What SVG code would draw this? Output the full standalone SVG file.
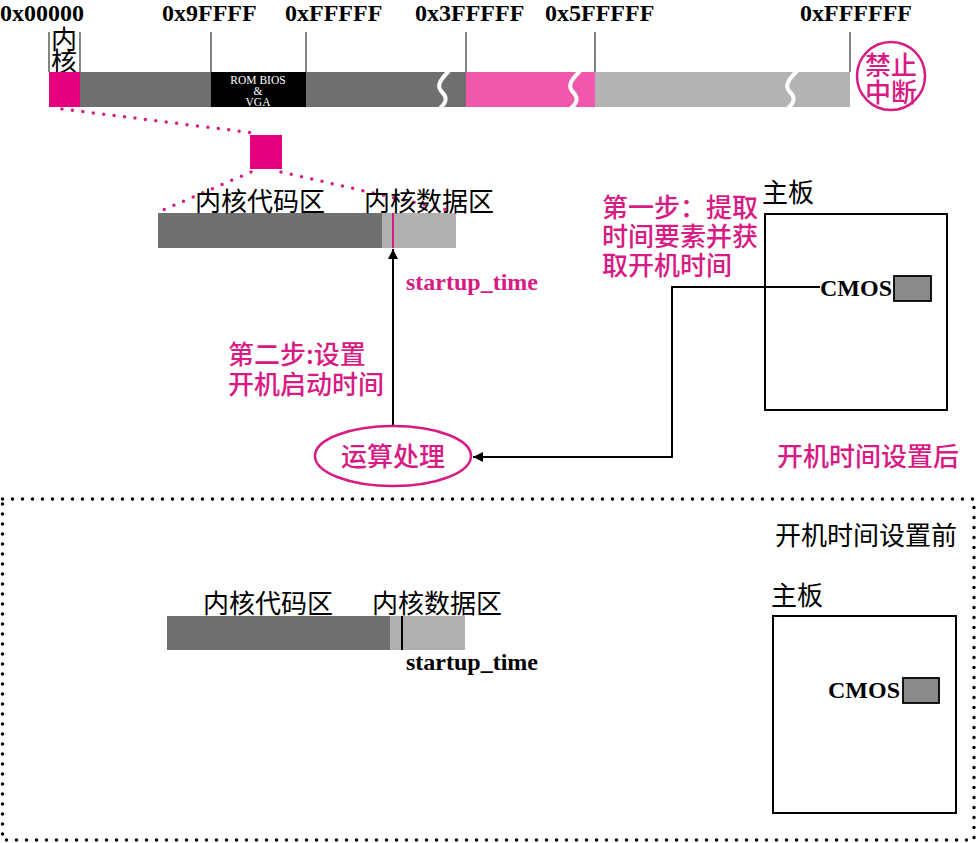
<svg xmlns="http://www.w3.org/2000/svg" width="977" height="843" viewBox="0 0 977 843">
<style>
.addr{font-family:"Liberation Serif","Times New Roman",serif;font-weight:bold;font-size:24px;fill:#000}
.cjk{font-family:"Noto Sans CJK SC","Noto Sans",sans-serif;font-size:26px;fill:#000}
.mg{fill:#d81b84;font-weight:500}
.ser{font-family:"Liberation Serif","Times New Roman",serif;font-weight:bold;font-size:24px}
.tick{stroke:#333;stroke-width:1.2}
.wave{fill:none;stroke:#fff;stroke-width:4}
.dotm{fill:none;stroke:#d81b84;stroke-width:3.5;stroke-linecap:round;stroke-dasharray:0 10.5}
.conn{fill:none;stroke:#000;stroke-width:2}
.box{fill:#fff;stroke:#000;stroke-width:2}
.chip{fill:#8a8a8a;stroke:#000;stroke-width:1.8}
.dark{fill:#6f6f6f}
.light{fill:#b3b3b3}
</style>
<defs>
<marker id="arr" viewBox="0 0 10 10" refX="10" refY="5" markerWidth="10" markerHeight="10" markerUnits="userSpaceOnUse" orient="auto">
<path d="M0,0 L10,5 L0,10 z" fill="#000"/>
</marker>
</defs>

<g id="memory-map">
<text class="addr" x="0" y="21">0x00000</text>
<text class="addr" x="162" y="21">0x9FFFF</text>
<text class="addr" x="285" y="21">0xFFFFF</text>
<text class="addr" x="415" y="21">0x3FFFFF</text>
<text class="addr" x="545" y="21">0x5FFFFF</text>
<text class="addr" x="800" y="21">0xFFFFFF</text>
<line class="tick" x1="49" y1="32" x2="49" y2="72"/>
<line class="tick" x1="80" y1="32" x2="80" y2="72"/>
<line class="tick" x1="211" y1="32" x2="211" y2="72"/>
<line class="tick" x1="306" y1="32" x2="306" y2="72"/>
<line class="tick" x1="466" y1="32" x2="466" y2="72"/>
<line class="tick" x1="595" y1="32" x2="595" y2="72"/>
<line class="tick" x1="850" y1="32" x2="850" y2="72"/>
<text class="cjk" x="64" y="49" text-anchor="middle" font-size="20">内</text>
<text class="cjk" x="64" y="71" text-anchor="middle" font-size="20">核</text>
<rect x="49" y="72" width="31" height="35" fill="#e5007e"/>
<rect class="dark" x="80" y="72" width="131" height="35"/>
<rect x="211" y="72" width="95" height="35" fill="#000"/>
<rect class="dark" x="306" y="72" width="160" height="35"/>
<rect x="466" y="72" width="129" height="35" fill="#f157ab"/>
<rect class="light" x="595" y="72" width="255" height="35"/>
<path class="wave" d="M449,71 C440,80 436,86 442,92 C448,98 446,103 440,108"/>
<path class="wave" d="M580,71 C571,80 567,86 573,92 C579,98 577,103 571,108"/>
<path class="wave" d="M797,71 C788,80 784,86 790,92 C796,98 794,103 788,108"/>
<g font-family="Liberation Serif, Times New Roman, serif" font-size="11.5" fill="#fff" text-anchor="middle">
<text x="258" y="84">ROM BIOS</text>
<text x="258" y="94.5">&amp;</text>
<text x="258" y="106">VGA</text>
</g>
</g>

<g id="no-interrupt">
<circle cx="891" cy="76" r="34" fill="#fff" stroke="#d81b84" stroke-width="2.5"/>
<text class="cjk mg" x="891" y="75" text-anchor="middle" font-size="24">禁止</text>
<text class="cjk mg" x="891" y="102" text-anchor="middle" font-size="24">中断</text>
</g>

<g id="kernel-zoom">
<path class="dotm" d="M62,109 L254,133"/>
<rect x="250" y="135" width="32" height="34" fill="#e5007e"/>
<path class="dotm" d="M251,172 L163,210"/>
<path class="dotm" d="M281,172 L452,211"/>
</g>

<g id="kernel-after">
<rect x="158" y="213" width="224" height="35" fill="#707070"/>
<rect x="382" y="213" width="74" height="35" fill="#b0b0b0"/>
<line x1="393" y1="213" x2="393" y2="248" stroke="#d81b84" stroke-width="2"/>
<text class="cjk" x="195" y="211">内核代码区</text>
<text class="cjk" x="364" y="211">内核数据区</text>
<text class="ser" x="406" y="290" fill="#d81b84">startup_time</text>
</g>

<g id="step2-label">
<text class="cjk mg" x="228" y="364">第二步:设置</text>
<text class="cjk mg" x="228" y="394">开机启动时间</text>
</g>

<g id="compute">
<ellipse cx="393" cy="456" rx="78" ry="30" fill="#fff" stroke="#d81b84" stroke-width="2.5"/>
<text class="cjk mg" x="393" y="466" text-anchor="middle" font-weight="bold">运算处理</text>
</g>

<g id="step1-label">
<text class="cjk mg" x="602" y="217">第一步：提取</text>
<text class="cjk mg" x="602" y="246">时间要素并获</text>
<text class="cjk mg" x="602" y="275">取开机时间</text>
</g>

<g id="board-after">
<text class="cjk" x="762" y="202" font-size="25">主板</text>
<rect class="box" x="765" y="214" width="182" height="196"/>
<text class="ser" x="820" y="296" font-size="25">CMOS</text>
<rect class="chip" x="894" y="276" width="37" height="25"/>
</g>

<g id="connectors">
<polyline class="conn" points="820,287 672,287 672,457 473,457" marker-end="url(#arr)"/>
<line class="conn" x1="393" y1="425" x2="393" y2="249" marker-end="url(#arr)"/>
</g>

<text class="cjk mg" x="777" y="466">开机时间设置后</text>

<g id="before-frame">
<rect x="2.5" y="499" width="971.5" height="341" fill="none" stroke="#000" stroke-width="3.5" stroke-linecap="round" stroke-dasharray="0 10"/>
<text class="cjk" x="775" y="545">开机时间设置前</text>
</g>

<g id="kernel-before">
<rect x="167" y="616" width="223" height="34" fill="#707070"/>
<rect x="390" y="616" width="75" height="34" fill="#b0b0b0"/>
<line x1="402" y1="616" x2="402" y2="650" stroke="#000" stroke-width="2"/>
<text class="cjk" x="203" y="613">内核代码区</text>
<text class="cjk" x="372" y="613">内核数据区</text>
<text class="ser" x="406" y="670">startup_time</text>
</g>

<g id="board-before">
<text class="cjk" x="771" y="605" font-size="25">主板</text>
<rect class="box" x="773" y="616" width="183" height="197"/>
<text class="ser" x="828" y="698" font-size="25">CMOS</text>
<rect class="chip" x="903" y="678" width="36" height="25"/>
</g>
</svg>
